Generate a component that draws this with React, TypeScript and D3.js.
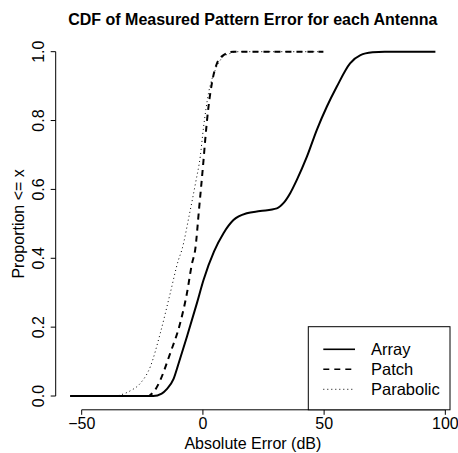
import React from 'react'
import { scaleLinear, line, curveMonotoneX, extent } from 'd3'

const width = 458
const height = 453
const font = '"Liberation Sans", Arial, Helvetica, sans-serif'

// values: x in dB, p = proportion <= x
const arrayX = [-54.7, -20.5, -17, -14.9, -12.1, -10.1, -6.6, -2.5, 0.25, 4.6, 8.5, 12.6, 18.1, 23.6, 30.5, 33.2, 36.0, 38.7, 42.9, 47.0, 51.1, 55.2, 60.7, 65, 70, 75, 95.9]
const arrayP = [0, 0, 0.007, 0.02, 0.05, 0.093, 0.172, 0.269, 0.337, 0.42, 0.473, 0.511, 0.531, 0.537, 0.545, 0.56, 0.589, 0.627, 0.695, 0.773, 0.84, 0.898, 0.966, 0.99, 0.998, 1, 1]

const patchX = [-54.7, -22.5, -21.7, -19.5, -17.6, -13.5, -9.4, -6.6, -4.5, -3.2, -1.5, 0.25, 0.95, 2.3, 3.7, 5.8, 8.5, 12.6, 49.7]
const patchP = [0, 0, 0.003, 0.02, 0.046, 0.124, 0.211, 0.298, 0.385, 0.424, 0.55, 0.685, 0.744, 0.84, 0.908, 0.966, 0.99, 1, 1]

const paraX = [-54.7, -36.1, -34.1, -30, -25.8, -21.7, -17.6, -13.5, -10.1, -8.7, -5.5, -3, -1.1, 0.25, 2.3, 5.1, 7.8, 11.2, 15, 49.7]
const paraP = [0, 0, 0.003, 0.015, 0.037, 0.085, 0.182, 0.298, 0.395, 0.424, 0.53, 0.62, 0.695, 0.78, 0.879, 0.947, 0.981, 0.995, 1, 1]

const xTicks = [-50, 0, 50, 100]
const xTickLabels = ['\u221250', '0', '50', '100']
const yTicks = [0, 0.2, 0.4, 0.6, 0.8, 1]
const yTickLabels = ['0.0', '0.2', '0.4', '0.6', '0.8', '1.0']

const seriesNames = ['Array', 'Patch', 'Parabolic']

const plot = { left: 55.7, right: 450, top: 37.9, bottom: 409.8 }

export default function App() {
    const [x0, x1] = extent([...arrayX, ...patchX, ...paraX]) as [number, number]
    const padX = (x1 - x0) * 0.04
    const xScale = scaleLinear().domain([x0 - padX, x1 + padX]).range([plot.left, plot.right])
    const yScale = scaleLinear().domain([-0.04, 1.04]).range([plot.bottom, plot.top])

    const path = line<[number, number]>()
        .x(d => xScale(d[0]))
        .y(d => yScale(d[1]))
        .curve(curveMonotoneX)

    const series = [
        { name: seriesNames[0], pts: arrayX.map((x, i) => [x, arrayP[i]] as [number, number]), sw: 2, dash: undefined, color: '#000' },
        { name: seriesNames[1], pts: patchX.map((x, i) => [x, patchP[i]] as [number, number]), sw: 2, dash: '6 5', color: '#000' },
        { name: seriesNames[2], pts: paraX.map((x, i) => [x, paraP[i]] as [number, number]), sw: 1, dash: '1 3', color: '#000' },
    ]

    const legend = { x0: 308.3, x1: plot.right, y0: 326.7, y1: plot.bottom }

    return (
        <svg width={width} height={height} style={{ position: 'absolute', left: 0, top: 0, background: '#fff' }} fontFamily={font}>
            <text x={(plot.left + plot.right) / 2} y={25} textAnchor="middle" fontWeight="bold" fontSize={16}>
                CDF of Measured Pattern Error for each Antenna
            </text>

            {series.map(s => (
                <path key={s.name} d={path(s.pts) || ''} fill="none" stroke={s.color} strokeWidth={s.sw} strokeDasharray={s.dash} />
            ))}

            {/* x axis */}
            <line x1={xScale(xTicks[0])} x2={xScale(xTicks[xTicks.length - 1])} y1={plot.bottom} y2={plot.bottom} stroke="#000" />
            {xTicks.map((t, i) => (
                <g key={t} transform={`translate(${xScale(t)},${plot.bottom})`}>
                    <line y1={0} y2={5} stroke="#000" />
                    <text y={19.5} textAnchor="middle" fontSize={16}>{xTickLabels[i]}</text>
                </g>
            ))}
            <text x={(plot.left + plot.right) / 2} y={449} textAnchor="middle" fontSize={16}>Absolute Error (dB)</text>

            {/* y axis */}
            <line x1={plot.left} x2={plot.left} y1={yScale(0)} y2={yScale(1)} stroke="#000" />
            {yTicks.map((t, i) => (
                <g key={t} transform={`translate(${plot.left},${yScale(t)})`}>
                    <line x1={0} x2={-5} stroke="#000" />
                    <text transform="translate(-12.2,0) rotate(-90)" textAnchor="middle" fontSize={16}>{yTickLabels[i]}</text>
                </g>
            ))}
            <text transform={`translate(24,${(plot.top + plot.bottom) / 2}) rotate(-90)`} textAnchor="middle" fontSize={16}>Proportion &lt;= x</text>

            {/* legend */}
            <rect x={legend.x0} y={legend.y0} width={legend.x1 - legend.x0} height={legend.y1 - legend.y0} fill="#fff" stroke="#000" />
            {series.map((s, i) => {
                const y = 349.3 + i * 20
                return (
                    <g key={s.name}>
                        <line x1={323.3} x2={355} y1={y} y2={y} stroke="#000" strokeWidth={s.sw === 2 ? 1.6 : 1} strokeDasharray={s.dash} />
                        <text x={371} y={y} dy="0.36em" fontSize={16.5}>{s.name}</text>
                    </g>
                )
            })}
        </svg>
    )
}
